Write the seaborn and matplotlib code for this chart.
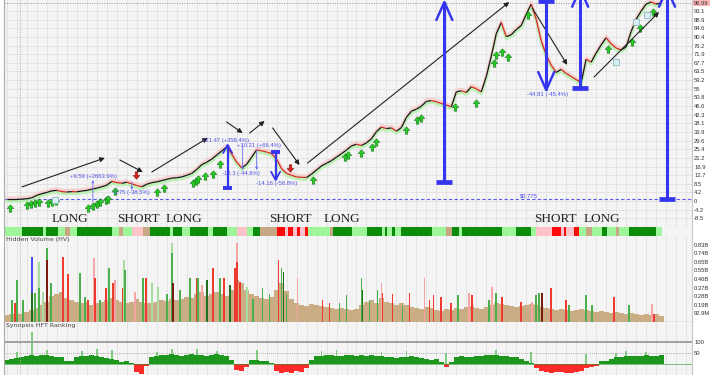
import numpy as np
import pandas as pd
import matplotlib
matplotlib.use("Agg")
import matplotlib.pyplot as plt
import seaborn as sns
from matplotlib.path import Path
from matplotlib.collections import LineCollection
from matplotlib.ticker import MultipleLocator
import matplotlib.transforms as mtrans

# ---------------- DATA ----------------
price = [0.8, 0.8, 0.8, 0.9, 1.1, 1.6, 2.8, 3.6, 4.2, 5.0,
         5.2, 4.6, 4.4, 4.6, 4.5, 4.9, 5.2, 5.8, 6.3, 7.0,
         7.8, 9.6, 9.0, 8.7, 9.2, 8.4, 7.6, 7.0, 8.2, 9.0,
         9.4, 10.0, 10.6, 11.2, 11.4, 11.8, 12.6, 13.5, 15.5, 17.8,
         19.0, 20.5, 22.5, 24.5, 26.5, 23.0, 19.0, 16.2, 18.0, 21.5,
         25.0, 24.6, 24.0, 23.2, 20.5, 15.8, 13.5, 12.6, 11.8, 11.6,
         11.5, 13.2, 15.2, 17.2, 18.5, 19.8, 21.5, 23.2, 25.0, 27.0,
         27.8, 27.2, 28.5, 30.5, 34.0, 36.2, 35.5, 35.8, 34.2, 36.0,
         41.0, 44.0, 45.0, 46.5, 48.8, 49.2, 48.6, 47.8, 47.0, 46.2,
         53.5, 54.0, 53.2, 56.0, 55.0, 53.5, 61.0, 71.0, 82.0, 87.5,
         80.5, 81.5, 84.0, 86.0, 91.5, 96.5, 89.0, 78.5, 71.5, 66.5,
         63.0, 64.5, 62.5, 61.0, 59.5, 58.0, 69.5, 68.0, 72.5, 76.5,
         80.0, 77.0, 75.0, 74.0, 75.5, 83.0, 89.0, 93.0, 96.5, 97.5,
         96.5, 97.0]

volume = [0.08, 0.09, 0.10, 0.09, 0.11, 0.13, 0.15, 0.18, 0.22, 0.28,
          0.30, 0.32, 0.26, 0.24, 0.22, 0.20, 0.22, 0.18, 0.20, 0.22,
          0.24, 0.26, 0.24, 0.22, 0.20, 0.22, 0.25, 0.22, 0.20, 0.21,
          0.22, 0.24, 0.23, 0.25, 0.24, 0.25, 0.27, 0.26, 0.30, 0.32,
          0.28, 0.30, 0.32, 0.30, 0.28, 0.35, 0.45, 0.42, 0.35, 0.30,
          0.28, 0.26, 0.25, 0.27, 0.35, 0.42, 0.33, 0.25, 0.20, 0.18,
          0.17, 0.19, 0.18, 0.17, 0.16, 0.15, 0.14, 0.15, 0.14, 0.13,
          0.14, 0.18, 0.22, 0.24, 0.20, 0.26, 0.22, 0.20, 0.18, 0.20,
          0.18, 0.16, 0.15, 0.14, 0.16, 0.15, 0.13, 0.12, 0.14, 0.13,
          0.15, 0.14, 0.16, 0.17, 0.15, 0.14, 0.16, 0.18, 0.20, 0.19,
          0.18, 0.17, 0.16, 0.17, 0.18, 0.19, 0.18, 0.16, 0.15, 0.14,
          0.13, 0.14, 0.13, 0.12, 0.13, 0.14, 0.13, 0.12, 0.11, 0.12,
          0.11, 0.10, 0.11, 0.10, 0.09, 0.10, 0.09, 0.08, 0.09, 0.08,
          0.09, 0.07]

# hidden-volume spikes: position, height (billions), colour code
spike_x = [1.0, 1.6, 2.0, 3.2, 5.0, 5.0, 5.6, 6.4, 6.4, 7.2, 8.0, 8.0, 8.8,
           11.2, 12.2, 14.6, 15.6, 16.2, 17.4, 17.6, 18.6, 19.8, 20.4, 21.2,
           21.6, 23.2, 23.4, 23.6, 25.6, 27.2, 27.8, 29.0, 30.2, 32.0, 33.0,
           33.0, 33.2, 34.6, 36.6, 38.0, 38.2, 39.0, 40.0, 41.2, 42.6, 43.4,
           44.6, 45.6, 46.0, 46.0, 46.6, 48.0, 49.2, 51.2, 52.6, 54.4, 55.0,
           55.4, 56.0, 58.2, 63.2, 64.6, 66.6, 68.0, 71.0, 71.2, 72.6, 74.2,
           75.0, 75.2, 77.2, 79.2, 80.6, 83.6, 84.6, 85.4, 87.0, 89.0, 90.4,
           92.6, 93.2, 96.6, 97.2, 98.0, 99.2, 103.0, 105.2, 106.0, 106.6,
           107.2, 109.0, 112.0, 112.6, 116.0, 117.2, 121.6, 124.6, 129.2, 129.6]
spike_v = [0.24, 0.21, 0.45, 0.24, 0.70, 0.31, 0.31, 0.65, 0.37, 0.32, 0.80, 0.67, 0.42,
           0.70, 0.52, 0.53, 0.27, 0.24, 0.69, 0.47, 0.24, 0.37, 0.58, 0.42,
           0.45, 0.37, 0.67, 0.56, 0.32, 0.48, 0.47, 0.42, 0.38, 0.30, 0.85,
           0.74, 0.42, 0.35, 0.47, 0.47, 0.48, 0.40, 0.45, 0.58, 0.47, 0.47,
           0.40, 0.58, 0.85, 0.65, 0.43, 0.38, 0.25, 0.37, 0.30, 0.67, 0.58,
           0.54, 0.30, 0.47, 0.24, 0.21, 0.21, 0.29, 0.47, 0.35, 0.24, 0.35,
           0.42, 0.31, 0.30, 0.17, 0.31, 0.47, 0.24, 0.29, 0.27, 0.20, 0.29,
           0.31, 0.29, 0.24, 0.38, 0.31, 0.27, 0.22, 0.22, 0.29, 0.31,
           0.31, 0.37, 0.24, 0.18, 0.29, 0.18, 0.27, 0.18, 0.19, 0.09]
spike_c = ["g", "r", "g", "g", "b", "dg", "g", "lg", "g", "lg", "g", "dr", "g",
           "r", "r", "g", "g", "r", "p", "r", "g", "r", "g", "r",
           "p", "r", "lg", "g", "p", "g", "r", "lg", "lg", "g", "lg",
           "g", "dr", "g", "g", "r", "g", "p", "dg", "r", "g", "r",
           "dg", "r", "p", "r", "r", "lg", "g", "g", "g", "r", "g",
           "dg", "g", "p", "r", "r", "g", "g", "g", "dg", "g", "g",
           "p", "r", "r", "g", "r", "p", "r", "r", "r", "r", "g",
           "p", "r", "g", "p", "g", "r", "r", "p", "g", "g",
           "dr", "r", "r", "g", "g", "g", "r", "g", "p", "r"]

hft = [20, 25, 28, 32, 35, 40, 38, 42, 40, 36,
       34, 30, 12, 15, 30, 35, 38, 40, 36, 32,
       28, 25, 20, 8, 15, 5, -35, -45, -10, 30,
       38, 42, 40, 45, 42, 38, 40, 45, 42, 40,
       38, 42, 45, 40, 35, 20, -25, -30, -15, 18,
       20, 15, 12, 5, -30, -40, -35, -40, -30, -35,
       -20, 20, 35, 38, 42, 40, 36, 38, 42, 40,
       38, 40, 38, 42, 38, 35, 32, 30, 28, 30,
       32, 35, 30, 28, 25, 20, 22, 10, -15, 8,
       30, 35, 32, 30, 35, 38, 40, 42, 40, 38,
       35, 32, 30, 25, 15, 5, -20, -30, -35, -40,
       -38, -35, -40, -42, -35, -30, -20, -15, -8, 12,
       15, 25, 30, 32, 35, 38, 35, 38, 40, 36,
       38, 42]
hft_spike_x = [2.0, 5.0, 8.0, 15.0, 18.0, 21.0, 30.0, 33.0, 38.0, 42.0, 50.0,
               63.0, 66.0, 75.0, 80.0, 88.0, 98.0, 105.0, 116.0, 122.0, 124.0, 128.0]
hft_spike_v = [55, 145, 65, 60, 70, 62, 55, 70, 68, 60, 62,
               60, 65, 55, 58, 50, 65, 55, 45, 50, 60, 55]

# regime colour strip: segment starts and colour codes (last value = end)
strip_start = [-0.8, 3.0, 7.2, 7.8, 10.2, 11.6, 12.6, 14.0, 21.0, 22.4, 23.2, 25.0,
               27.2, 28.6, 32.6, 33.2, 35.0, 36.6, 40.2, 41.2, 44.0, 46.0, 48.0,
               49.2, 50.6, 54.0, 55.6, 56.2, 57.2, 58.0, 58.6, 59.6, 60.2, 64.6,
               65.2, 69.2, 72.2, 75.2, 75.8, 76.2, 77.2, 77.8, 79.0, 85.2, 88.0,
               89.2, 90.6, 91.2, 99.2, 102.0, 105.0, 106.0, 109.2, 111.0, 111.6,
               112.0, 113.6, 114.6, 116.0, 117.2, 119.2, 120.2, 122.0, 122.6,
               124.6, 130.0, 131.2]
strip_code = ["lg", "dg", "lg", "dg", "lg", "t", "lg", "dg", "lg", "t", "lg", "p",
              "t", "dg", "lg", "dg", "lg", "dg", "lg", "dg", "lg", "p", "lg",
              "dg", "t", "r", "p", "r", "p", "r", "p", "r", "lg", "t",
              "dg", "lg", "dg", "lg", "dg", "lg", "dg", "lg", "dg", "lg", "t",
              "dg", "lg", "dg", "lg", "dg", "lg", "p", "r", "p", "r",
              "p", "r", "lg", "t", "lg", "dg", "lg", "t", "lg",
              "dg", "lg"]

# trade signals (bar index, price level)
buy_x = [0.6, 4.0, 4.8, 5.6, 6.4, 8.2, 9.0, 9.8, 16.2, 17.2, 18.0, 18.6, 19.8, 20.2,
         21.6, 30.0, 31.4, 37.2, 37.8, 38.2, 39.6, 41.2, 42.6, 61.2, 67.6, 68.2,
         71.0, 73.2, 74.0, 80.0, 82.2, 83.0, 89.8, 94.0, 97.6, 98.0, 99.2, 100.4,
         104.4, 120.4, 125.2, 126.8, 129.4]
buy_y = [-3.4, -2.0, -1.5, -1.0, -0.5, -1.0, -0.5, 0.0, -3.4, -2.5, -1.5, -0.5, 0.5, 1.0,
         5.0, 4.4, 6.4, 8.8, 9.8, 10.8, 12.3, 13.2, 18.0, 10.3, 21.6, 22.5,
         23.5, 26.5, 29.0, 34.8, 39.7, 40.7, 46.0, 48.0, 67.6, 71.6, 73.0, 70.6,
         91.0, 74.5, 78.0, 84.8, 92.6]
sell_x = [25.8, 56.6]
sell_y = [12.7, 16.0]
exit_x = [9.6, 122.0, 126.0, 128.2]
exit_y = [0.5, 68.0, 87.7, 91.0]

# trend arrows (start index, start price, end index, end price)
trend_x0 = [3.0, 22.6, 29.0, 44.0, 48.6, 53.2, 60.2, 105.2, 117.6]
trend_y0 = [6.9, 20.1, 14.2, 38.7, 33.3, 35.8, 18.6, 94.6, 60.8]
trend_x1 = [19.6, 27.2, 40.2, 47.2, 51.6, 58.6, 100.6, 112.2, 130.6]
trend_y1 = [21.1, 14.2, 30.9, 33.3, 39.2, 17.6, 97.5, 66.7, 92.6]

# measured moves: bar index, flat-cap price, arrow-tip price
meas_x = [87.6, 108.0, 114.8, 132.2, 44.2, 53.8]
meas_cap = [9.3, 98.0, 55.4, 1.0, 6.4, 24.0]
meas_tip = [97.5, 54.4, 104.0, 104.0, 27.5, 10.3]

# small move annotations
move_text = ["+9.59 (+2663.9%)", "-3.75 (-38.5%)", "+21.47 (+358.4%)", "-12.3 (-44.8%)",
             "+10.21 (+66.4%)", "-14.16 (-58.8%)", "-44.81 (-45.4%)"]
move_tx = [17.3, 24.8, 43.8, 46.8, 50.4, 54.0, 108.2]
move_ty = [11.8, 4.4, 29.6, 13.7, 27.2, 8.8, 52.0]
thin_x = [17.2, 25.0, 47.2, 50.0]
thin_y0 = [-0.5, 9.3, 27.5, 25.0]
thin_y1 = [10.3, 5.4, 15.2, 15.2]

regime_labels = ["LONG", "SHORT", "LONG", "SHORT", "LONG", "SHORT", "LONG"]
regime_x = [12.6, 26.3, 35.4, 56.8, 67.1, 109.8, 119.2]
regime_y = -8.8

base_price = 0.775
last_price = 96.99
price_ticks = [-8.5, -4.2, 0, 4.2, 8.5, 12.7, 16.9, 21.2, 25.4, 29.6, 33.9, 38.1, 42.3,
               46.6, 50.8, 55, 59.2, 63.5, 67.7, 71.9, 76.2, 80.4, 84.6, 88.9, 93.1]
vol_ticks = [0.0929, 0.186, 0.279, 0.372, 0.464, 0.557, 0.650, 0.743, 0.836]
vol_labels = ["92.9M", "0.19B", "0.28B", "0.37B", "0.46B", "0.55B", "0.65B", "0.74B", "0.83B"]
hft_ticks = [50, 100]
signal_start_x = 2.6

# ---------------- STYLE ----------------
sns.set_theme(style="white")
plt.rcParams["font.family"] = ["DejaVu Sans"]

COL = {"g": "#4cae4c", "lg": "#a9dca0", "dg": "#1f6f1f", "r": "#ee3b30",
       "p": "#f6a5a5", "dr": "#7a1a10", "b": "#4a4af0", "t": "#c9a97f"}
STRIP = {"lg": "#9ff59a", "dg": "#0a8c0a", "t": "#c8a884", "p": "#ffc2c8", "r": "#ff0a0a"}
BG = "#f4f4f4"
GRID = "#e1e1e1"
BLUE = "#3535ee"
XL = (-0.6, 137.2)
TICKFONT = ["Liberation Sans", "DejaVu Sans"]

fig = plt.figure(figsize=(7.1, 3.75), dpi=100, facecolor="white")
L, W = 4 / 710, 688 / 710
ax = fig.add_axes([L, 1 - 227 / 375, W, 227 / 375])
ax_s = fig.add_axes([L, 1 - 236 / 375, W, 9 / 375])
ax_v = fig.add_axes([L, 1 - 322 / 375, W, 86 / 375])
ax_h = fig.add_axes([L, 0, W, 53 / 375])


def style_axis(a):
    a.set_facecolor(BG)
    a.set_xlim(*XL)
    a.xaxis.set_major_locator(MultipleLocator(2))
    a.tick_params(axis="x", bottom=False, labelbottom=False, length=0)
    a.yaxis.tick_right()
    a.tick_params(axis="y", right=False, left=False, length=0, labelsize=4.2, pad=1.5,
                  labelcolor="#333333")
    for s in a.spines.values():
        s.set_visible(False)
    a.spines["left"].set_visible(True)
    a.spines["left"].set_color("#aaaaaa")
    a.spines["left"].set_linewidth(0.8)
    a.spines["right"].set_visible(True)
    a.spines["right"].set_color("#c8c8c8")
    a.spines["right"].set_linewidth(0.8)
    a.set_xlabel("")
    a.set_ylabel("")
    for lab in a.get_yticklabels():
        lab.set_family(TICKFONT)


idx = np.arange(len(price))
pr = np.array(price)
df = pd.DataFrame({"idx": idx, "price": pr, "lo": pr - 0.9, "hi": pr + 0.9})

# ---- main price panel ----
ax.set_ylim(-12.75, 98.5)
ax.grid(True, color=GRID, lw=0.6)
ax.set_axisbelow(True)
ax.axhline(base_price, color=BLUE, ls=(0, (3, 2)), lw=0.8, alpha=0.8)
ax.axhline(last_price, color="#999999", ls=(0, (1, 1.5)), lw=0.7)
ax.axvline(signal_start_x, color="#aaaaaa", ls=(0, (1, 1.5)), lw=0.7)

sns.lineplot(data=df, x="idx", y="lo", ax=ax, color="#b8f0b0", lw=2.2, alpha=0.9)
sns.lineplot(data=df, x="idx", y="hi", ax=ax, color="#f8c8c8", lw=1.8, alpha=0.8)
segs = np.stack([np.column_stack([idx[:-1], pr[:-1]]), np.column_stack([idx[1:], pr[1:]])], axis=1)
seg_cols = ["#d42a20" if pr[i + 1] < pr[i] else "#151515" for i in range(len(pr) - 1)]
ax.add_collection(LineCollection(segs, colors=seg_cols, linewidths=0.9, zorder=3))

up = Path([(-0.35, -1), (0.35, -1), (0.35, 0), (0.9, 0), (0, 1), (-0.9, 0), (-0.35, 0), (-0.35, -1)],
          [Path.MOVETO] + [Path.LINETO] * 6 + [Path.CLOSEPOLY])
down = Path([(-0.35, 1), (0.35, 1), (0.35, 0), (0.9, 0), (0, -1), (-0.9, 0), (-0.35, 0), (-0.35, 1)],
            [Path.MOVETO] + [Path.LINETO] * 6 + [Path.CLOSEPOLY])
sns.scatterplot(x=buy_x, y=buy_y, ax=ax, marker=up, s=28, color="#22d022",
                edgecolor="#1b6e1b", linewidth=0.4, zorder=4)
sns.scatterplot(x=sell_x, y=sell_y, ax=ax, marker=down, s=28, color="#e02020",
                edgecolor="#801010", linewidth=0.4, zorder=4)
sns.scatterplot(x=exit_x, y=exit_y, ax=ax, marker="s", s=14, color="#d8eef2",
                edgecolor="#8fb8c0", linewidth=0.6, zorder=4)

for x0, y0, x1, y1 in zip(trend_x0, trend_y0, trend_x1, trend_y1):
    ax.annotate("", xy=(x1, y1), xytext=(x0, y0),
                arrowprops=dict(arrowstyle="-|>", color="#222222", lw=0.8,
                                mutation_scale=7, shrinkA=0, shrinkB=0), zorder=5)

for k, (mx, mc, mt) in enumerate(zip(meas_x, meas_cap, meas_tip)):
    big = k < 4
    hw = 1.6 if big else 0.9
    arm = 8.8 if big else 4.0
    lw = 2.2 if big else 1.6
    sgn = 1 if mt > mc else -1
    ax.plot([mx, mx], [mc, mt], color=BLUE, lw=lw, zorder=6, solid_capstyle="butt")
    ax.plot([mx - hw, mx + hw], [mc, mc], color=BLUE, lw=lw + 1.2, zorder=6, solid_capstyle="butt")
    ax.plot([mx - hw, mx, mx + hw], [mt - sgn * arm, mt, mt - sgn * arm], color=BLUE,
            lw=lw * 0.8, zorder=6)

for tx, a0, a1 in zip(thin_x, thin_y0, thin_y1):
    ax.annotate("", xy=(tx, a1), xytext=(tx, a0),
                arrowprops=dict(arrowstyle="->", color="#6a6af0", lw=0.6,
                                mutation_scale=4, shrinkA=0, shrinkB=0), zorder=5)
for t, x, y in zip(move_text, move_tx, move_ty):
    ax.text(x, y, t, fontsize=4.2, color="#5050e8", ha="center", va="center", zorder=7,
            family=TICKFONT)
ax.text(104.6, 2.6, "$0.775", fontsize=4.2, color="#5050e8", ha="center", va="center",
        family=TICKFONT)

for t, x in zip(regime_labels, regime_x):
    ax.text(x, regime_y, t, fontsize=9.5, family=["Liberation Serif", "DejaVu Serif"],
            color="#222222", ha="center", va="center")

ax.set_yticks(price_ticks)
ax.set_yticklabels([f"{t:g}" for t in price_ticks])
style_axis(ax)
ax.text(1.003, last_price, f"{last_price:.2f}",
        transform=mtrans.blended_transform_factory(ax.transAxes, ax.transData),
        fontsize=4.2, color="#333333", va="center", ha="left", family=TICKFONT,
        bbox=dict(boxstyle="square,pad=0.15", fc="#ffb8b8", ec="none"), clip_on=False)

# ---- regime strip ----
ax_s.set_ylim(0, 1)
ax_s.set_yticks([])
widths = np.diff(strip_start)
ax_s.bar(strip_start[:-1], 1, width=widths, align="edge",
         color=[STRIP[c] for c in strip_code[:-1]], linewidth=0)
style_axis(ax_s)

# ---- hidden volume ----
ax_v.set_ylim(0, 86 / 92.6)
ax_v.grid(True, axis="x", color=GRID, lw=0.6)
ax_v.set_axisbelow(True)
ax_v.axvline(signal_start_x, color="#aaaaaa", ls=(0, (1, 1.5)), lw=0.7)
ax_v.bar(idx, volume, width=1.0, color=COL["t"], linewidth=0, alpha=0.95)
ax_v.bar(spike_x, spike_v, width=0.35, color=[COL[c] for c in spike_c], linewidth=0)
ax_v.set_yticks(vol_ticks)
ax_v.set_yticklabels(vol_labels)
style_axis(ax_v)
ax_v.spines["bottom"].set_visible(True)
ax_v.spines["bottom"].set_color("#aaaaaa")
ax_v.spines["bottom"].set_linewidth(1.0)
ax_v.text(0.003, 0.985, "Hidden Volume (HV)", transform=ax_v.transAxes, fontsize=4.5,
          color="#444444", va="top", ha="left")

# ---- HFT ranking ----
ax_h.set_ylim(-50, 191)
ax_h.grid(True, axis="x", color=GRID, lw=0.6)
ax_h.set_axisbelow(True)
ax_h.axvline(signal_start_x, color="#aaaaaa", ls=(0, (1, 1.5)), lw=0.7)
ax_h.axhline(100, color="#a0a0a0", lw=1.4)
ax_h.axhline(50, color="#999999", ls=(0, (1, 1.5)), lw=0.6)
ax_h.bar(hft_spike_x, hft_spike_v, width=0.35, color="#80cc80", linewidth=0)
hv = np.array(hft)
ax_h.bar(idx, hv, width=1.0, color=np.where(hv >= 0, "#1c961c", "#ff2a2a"), linewidth=0)
ax_h.axhline(0, color="#1c961c", lw=0.4)
ax_h.set_yticks(hft_ticks)
ax_h.set_yticklabels([str(t) for t in hft_ticks])
style_axis(ax_h)
ax_h.text(0.003, 0.985, "Synopsis HFT Ranking", transform=ax_h.transAxes, fontsize=4.5,
          color="#444444", va="top", ha="left")

fig.savefig("out.png", dpi=100, facecolor="white")
